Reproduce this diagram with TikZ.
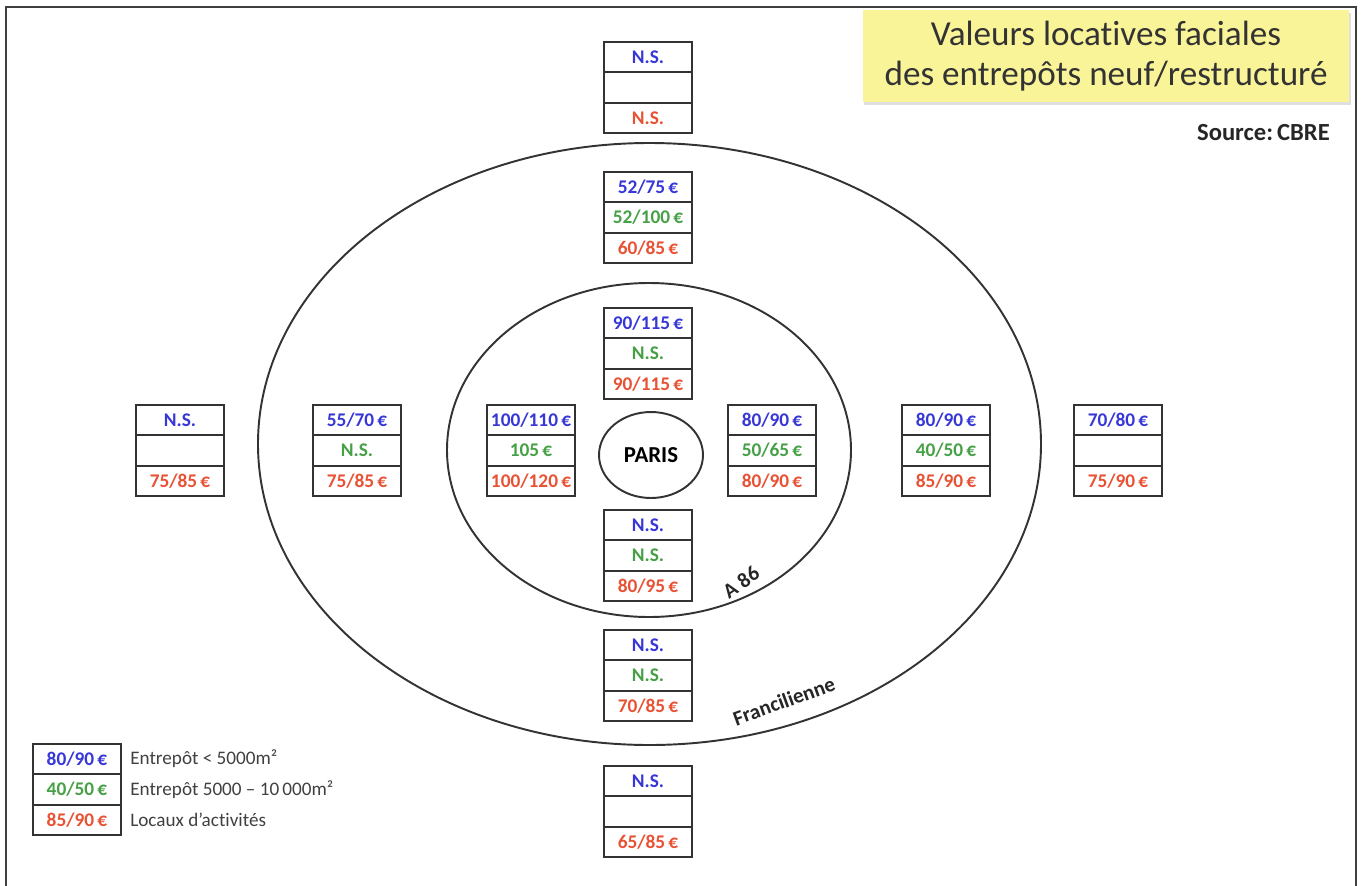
\documentclass[tikz,border=0pt]{standalone}
\usepackage{fontspec}
\setmainfont{Carlito}[Ligatures=NoCommon]
\usepackage{xcolor}
\usepackage{tikz}
\usetikzlibrary{shapes.geometric,positioning,shadows}
\definecolor{bleu}{RGB}{55,55,215}
\definecolor{vert}{RGB}{70,160,70}
\definecolor{rouge}{RGB}{232,82,52}
\definecolor{titrejaune}{RGB}{250,244,152}
\tikzset{
  case/.style={rectangle, draw=black!80, line width=0.9pt, outer sep=0pt,
               minimum width=1.76cm, minimum height=0.61cm, inner sep=0pt,
               font=\bfseries\fontsize{11}{13}\selectfont},
  ring/.style={draw=black!80, line width=1.1pt},
  route/.style={font=\bfseries\fontsize{12}{14}\selectfont, text=black!85, inner sep=1pt},
  leg/.style={font=\fontsize{10.9}{12}\selectfont, text=black!75, inner sep=0pt},
  titre/.style={rectangle, fill=titrejaune, minimum width=9.74cm, minimum height=1.84cm,
                align=center, text=black!80, font=\fontsize{20}{22.5}\selectfont,
                drop shadow={shadow xshift=1pt, shadow yshift=-1.5pt, fill=black!25}}
}
% three stacked cells: name, top cell centre, blue / green / red values
\newcommand{\valeurs}[5]{%
  \node[case, text=bleu] (#1a) at (#2) {#3};
  \node[case, text=vert, below=0pt of #1a] (#1b) {#4};
  \node[case, text=rouge, below=0pt of #1b] (#1c) {#5};
}

\begin{document}
\begin{tikzpicture}[x=0.02cm, y=0.02cm]
  \useasboundingbox (0,0) rectangle (1363,-886);
  \draw[black!75, line width=1pt] (6,-886) |- (1356,-7) -- (1356,-886);

  % rings
  \draw[ring] (649.5,-444) ellipse [x radius=391.5, y radius=301];
  \draw[ring] (649,-450) ellipse [x radius=202, y radius=167];
  \node[ellipse, ring, minimum width=2.08cm, minimum height=1.72cm,
        font=\bfseries\fontsize{13}{15}\selectfont] (paris) at (651,-455) {PARIS};
  \node[route, rotate=35] (a86) at (741,-582) {A 86};
  \node[route, rotate=20] (franc) at (784,-701) {Francilienne};

  % title
  \node[titre] (titre) at (1106,-56) {Valeurs locatives faciales\\des entrepôts neuf/restructuré};
  \node[anchor=east, font=\bfseries\fontsize{14}{16}\selectfont, text=black!85] (src) at (1336,-133) {Source:\,CBRE};

  % north
  \valeurs{n2}{648,-57}{N.S.}{}{N.S.}
  \valeurs{n1}{648,-187}{52/75\,€}{52/100\,€}{60/85\,€}
  \valeurs{n0}{648,-323}{90/115\,€}{N.S.}{90/115\,€}
  % west
  \valeurs{o2}{180,-420}{N.S.}{}{75/85\,€}
  \valeurs{o1}{357,-420}{55/70\,€}{N.S.}{75/85\,€}
  \valeurs{o0}{531,-420}{100/110\,€}{105\,€}{100/120\,€}
  % east
  \valeurs{e0}{772,-420}{80/90\,€}{50/65\,€}{80/90\,€}
  \valeurs{e1}{946,-420}{80/90\,€}{40/50\,€}{85/90\,€}
  \valeurs{e2}{1118,-420}{70/80\,€}{}{75/90\,€}
  % south
  \valeurs{s0}{648,-525}{N.S.}{N.S.}{80/95\,€}
  \valeurs{s1}{648,-645}{N.S.}{N.S.}{70/85\,€}
  \valeurs{s2}{648,-781}{N.S.}{}{65/85\,€}

  % legend
  \valeurs{l}{77,-759}{80/90\,€}{40/50\,€}{85/90\,€}
  \node[leg, right=0.18cm of la] (la-t) {Entrepôt < 5000m²};
  \node[leg, right=0.18cm of lb] (lb-t) {Entrepôt 5000 – 10\,000m²};
  \node[leg, right=0.18cm of lc] (lc-t) {Locaux d’activités};
\end{tikzpicture}
\end{document}
